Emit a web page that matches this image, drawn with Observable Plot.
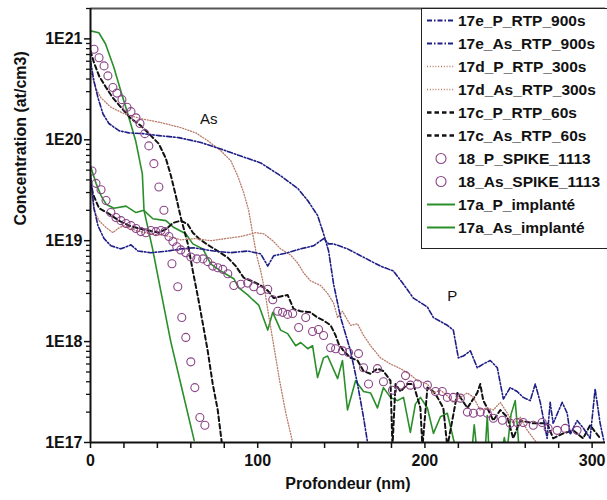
<!DOCTYPE html>
<html><head><meta charset="utf-8">
<script src="https://cdn.jsdelivr.net/npm/d3@7"></script>
<script src="https://cdn.jsdelivr.net/npm/@observablehq/plot@0.6"></script>
<style>
body{margin:0;background:#fff;overflow:hidden;}
#wrap{position:relative;width:607px;height:500px;font-family:"Liberation Sans",Arial,Helvetica,sans-serif;}
#legend{position:absolute;left:421px;top:8px;width:200px;height:241px;border:1.5px solid #222;background:#fff;box-sizing:border-box;}
.row{position:absolute;left:0;height:23px;display:flex;align-items:center;font-weight:bold;font-size:15.5px;color:#111;white-space:nowrap;}
.row svg{margin-left:4px;margin-right:2px;}
svg [aria-label="x-axis tick label"], svg [aria-label="y-axis tick label"]{font-weight:bold;}
</style></head><body><div id="wrap"><div id="chart"></div><div id="legend"></div></div>
<script>
// ---- data: [depth (nm), concentration (at/cm3)] ----
const e900_P = [[0,4.4e19],[2.1,2.1e19],[4.5,1.4e19],[8.1,1.05e19],[12.2,8.9e18],[18.2,8.3e18],[24.2,9.1e18],[28.4,7.9e18],[36.1,7.6e18],[46.3,7.9e18],[54,8.3e18],[61.8,8.5e18],[73.7,7.9e18],[83.9,7.6e18],[94,7.9e18],[101.8,7.4e18],[106,5.6e18],[109.6,7.1e18],[117.9,7.6e18],[125.7,8.3e18],[133.4,8.9e18],[139.4,1.05e19],[142.4,9.3e18],[145.4,9.3e18],[153.7,8.3e18],[161.5,7.1e18],[173.4,5.6e18],[181.2,5.0e18],[187.2,3.7e18],[193.1,2.7e18],[201.5,2.2e18],[205.1,1.73e18],[213.4,1.45e18],[217,1.3e18],[220,6.9e17],[223,7.2e17],[227.2,8.1e17],[231.3,5.5e17],[234.9,6.0e17],[239.1,6.5e17],[243.3,5.5e17],[246.9,2.7e17],[251,3.5e17],[255.2,3.2e17],[258.8,2.8e17],[263,2.6e17],[266,3.8e17],[269,2.5e17],[273.1,1.1e17],[274.9,2.5e17],[276.7,1.55e17],[282.1,2.5e17],[285.1,1.95e17],[286.9,1.2e17],[291,1.65e17],[294.6,1.4e17],[298.8,1.1e17],[301.8,3.4e17],[304.8,1.55e17],[307.8,9e16]];
const e900_As = [[0,6e20],[2.1,3.8e20],[4.5,2.6e20],[7.5,1.8e20],[11,1.45e20],[17,1.23e20],[23,1.17e20],[31.3,1.15e20],[40.9,1.1e20],[52.8,1.05e20],[66,9.4e19],[77.9,8.1e19],[89.9,6.9e19],[101.8,5.9e19],[113.7,4.4e19],[123.9,3.3e19],[129.9,2.5e19],[135.8,1.78e19],[139.4,1.17e19],[142.4,7.9e18],[145.4,3.7e18],[149.6,1.73e18],[155.5,8.1e17],[159.7,3.8e17],[163.3,1.77e17],[165.7,1e17]];
const d300_P = [[0,3.5e19],[2.1,2.0e19],[5.1,1.58e19],[9.3,1.35e19],[13.4,1.2e19],[16.4,1.32e19],[20,1.41e19],[27.2,1.26e19],[36.1,1.17e19],[45.1,1.12e19],[54,1.02e19],[63,1.05e19],[71.9,1.0e19],[80.9,1.05e19],[89.9,1.1e19],[98.8,1.2e19],[103.6,1.17e19],[109,1.0e19],[113.7,8.3e18],[119.7,7.2e18],[123.9,6.0e18],[127.5,4.8e18],[131.6,4.0e18],[137.6,3.6e18],[141.8,3.0e18],[145.4,2.4e18],[147.8,1.73e18],[150.7,2.0e18],[155.5,1.45e18],[159.7,1.5e18],[163.3,1.15e18],[167.5,9.1e17],[173.4,6.9e17],[179.4,6.0e17],[185.4,5.4e17],[191.3,4.7e17],[195.5,4.1e17],[201.5,3.8e17],[205.1,3.1e17],[209.3,3.3e17],[213.4,2.9e17],[217,2.5e17],[221.2,2.8e17],[225.4,3.1e17],[229,2.8e17],[233.1,2.1e17],[237.3,2.2e17],[240.9,2.1e17],[245.1,2.5e17],[249.3,1.95e17],[252.8,1.55e17],[257,1.78e17],[261.2,1.32e17],[264.8,1.1e17],[269,9e16]];
const d300_As = [[0,4.8e20],[3.3,3.2e20],[6.3,2.6e20],[12.2,2.1e20],[21.2,1.78e20],[30.1,1.62e20],[42.1,1.48e20],[54,1.32e20],[63,1.17e20],[70.1,9.8e19],[77.9,7.8e19],[83.9,6.2e19],[88,4.4e19],[91.6,3.0e19],[94.6,2.0e19],[97,1.17e19],[99.4,7.1e18],[101.8,5.0e18],[104.2,3.2e18],[106.6,1.8e18],[109.6,9.1e17],[113.1,4.1e17],[116.7,2.0e17],[120.9,1e17]];
const c60_P = [[0,3.9e19],[1.5,2.9e19],[5.1,2.1e19],[11,1.85e19],[17,1.58e19],[23,1.41e19],[29,1.32e19],[34.9,1.26e19],[40.9,1.2e19],[45.1,1.3e19],[49.3,1.5e19],[54,1.58e19],[58.2,1.45e19],[61.2,1.2e19],[64.8,1.05e19],[70.1,9.1e18],[76.1,7.9e18],[82.1,6.8e18],[86.9,5.6e18],[91.6,4.3e18],[97.6,3.9e18],[101.8,3.6e18],[106,3.2e18],[109.6,2.7e18],[113.7,2.8e18],[117.9,2.9e18],[121.5,2.1e18],[125.7,2.0e18],[131.6,1.95e18],[135.8,1.73e18],[139.4,1.62e18],[143.6,1.45e18],[146.6,1.15e18],[148.4,9.5e17],[151.3,8.1e17],[155.5,6.9e17],[159.7,6.5e17],[163.3,5.1e17],[167.5,4.8e17],[171.6,5.4e17],[175.2,5.1e17],[179.4,4.1e17],[180.6,9e16],[182.4,3.8e17],[185.4,3.2e17],[189.6,3.8e17],[193.1,3.8e17],[197.3,2.2e17],[198.5,9e16],[201.5,3.5e17],[205.1,3.2e17],[207.5,2.8e17],[211,2.2e17],[213.4,9e16],[219.4,3.1e17],[225.4,2.2e17],[231.3,3.1e17],[233.1,3.8e17],[234.9,2.6e17],[237.3,2.2e17],[240.9,1.65e17],[245.1,2.1e17],[249.3,1.78e17],[252.8,1.1e17],[257,1.65e17],[264.8,1.55e17],[273.1,1.55e17],[276.7,1.1e17],[282.7,1.23e17],[288.7,1.32e17],[294.6,1.1e17],[298.8,1.48e17],[304.8,1.1e17]];
const c60_As = [[0,7.6e20],[2.1,5.8e20],[5.1,4.3e20],[9.3,3.3e20],[13.4,2.6e20],[18.2,2.1e20],[24.2,1.62e20],[30.1,1.38e20],[36.1,1.1e20],[40.9,9.1e19],[45.1,6.5e19],[48.1,4.4e19],[51,2.8e19],[54,1.7e19],[58.2,9.3e18],[61.2,5.0e18],[64.2,2.8e18],[67.2,1.5e18],[70.1,8.1e17],[73.1,3.8e17],[76.1,2.1e17],[78.5,1e17]];
const s_P = [[0.9,4.9e19],[3.3,3.7e19],[6.3,3.2e19],[9.3,2.5e19],[12.2,1.9e19],[15.2,1.7e19],[18.2,1.58e19],[21.2,1.48e19],[24.2,1.41e19],[27.2,1.32e19],[30.1,1.23e19],[33.1,1.2e19],[36.1,1.26e19],[39.1,1.23e19],[42.1,1.26e19],[44.5,1.23e19],[46.9,1.1e19],[49.3,9.8e18],[51.6,8.7e18],[54,8.1e18],[57,7.6e18],[60,6.9e18],[63.6,6.6e18],[67.2,6.6e18],[70.1,6.2e18],[73.1,5.6e18],[76.1,5.4e18],[79.1,5.2e18],[82.1,4.7e18],[85.7,3.6e18],[89.9,3.7e18],[94,3.8e18],[97.6,3.5e18],[101.8,3.2e18],[106,3.3e18],[109,2.6e18],[112,2.0e18],[114.9,1.95e18],[117.9,1.86e18],[120.9,1.9e18],[124.5,1.38e18],[128.7,1.73e18],[132.8,1.26e18],[136.4,1.32e18],[139.4,1.15e18],[143.6,8.7e17],[146.6,8.5e17],[150.7,8.1e17],[154.3,7.8e17],[160.3,7.6e17],[163.3,5.5e17],[166.3,3.8e17],[171.6,5.4e17],[175.2,4.0e17],[180.6,3.3e17],[185.4,3.7e17],[188.4,4.6e17],[191.3,3.7e17],[195.5,3.8e17],[201.5,3.7e17],[206.3,3.2e17],[210.4,3.2e17],[213.4,2.8e17],[217,2.8e17],[221.2,2.75e17],[225.4,2.0e17],[229,1.95e17],[233.1,2.0e17],[237.3,1.95e17],[240.9,1.74e17],[246.3,1.66e17],[251,1.55e17],[255.2,1.58e17],[258.8,1.58e17],[264.8,1.48e17],[270.1,1.58e17],[273.7,1.38e17],[279.1,1.32e17],[283.9,1.38e17],[291,1.32e17]];
const s_As = [[2.1,7.9e20],[5.1,6.5e20],[8.1,5.4e20],[10.4,4.3e20],[13.4,3.3e20],[15.8,2.9e20],[18.8,2.5e20],[21.8,2.1e20],[24.2,1.9e20],[27.2,1.65e20],[29.6,1.45e20],[32.5,1.15e20],[34.9,8.7e19],[37.9,5.8e19],[40.9,3.4e19],[43.9,2.0e19],[48.7,5.9e18],[52.2,3.5e18],[54.6,1.73e18],[57,1.1e18],[60,6.3e17],[62.4,3.5e17],[65.4,1.77e17],[68.4,1.48e17]];
const a_P = [[0,5.5e19],[3.3,3.7e19],[6.3,2.8e19],[9.3,2.3e19],[14,2.1e19],[21.2,2.2e19],[27.2,1.9e19],[31.9,2.0e19],[37.3,1.65e19],[45.1,1.58e19],[49.9,1.35e19],[57,1.17e19],[61.2,9.3e18],[67.2,8.3e18],[71.9,5.9e18],[77.9,5.0e18],[85.7,4.2e18],[88.7,3.4e18],[94,2.9e18],[97,2.6e18],[100.6,2.3e18],[106,1.3e18],[109,1.95e18],[113.7,1.3e18],[117.9,1.2e18],[122.7,9.1e17],[125.7,9.8e17],[129.9,8.5e17],[132.8,9.1e17],[135.8,4.4e17],[139.4,6.9e17],[141.8,7.2e17],[147.8,4.3e17],[150.7,6.5e17],[153.7,2.1e17],[158.5,4.1e17],[163.3,3.2e17],[167.5,3.1e17],[171.6,2.2e17],[175.2,3.5e17],[179.4,2.8e17],[183.6,2.6e17],[187.2,2.8e17],[191.3,1.26e17],[194.3,2.4e17],[197.3,2.8e17],[201.5,2.2e17],[205.1,1.23e17],[209.3,1.8e17],[213.4,1.95e17],[218.2,9e16],[222,6e16],[228,8e16],[229.5,1.5e17],[231.5,7e16],[236,8e16],[237.3,1.85e17],[238.5,7e16],[246,8e16],[247.5,1.12e17],[249,8e16],[251.5,1.9e17],[254,2.6e17],[256.5,8e16]];
const a_As = [[0,1.2e21],[5,1.15e21],[9,8.9e20],[14,5.2e20],[18,3.1e20],[23,1.65e20],[27,9.8e19],[31,4.6e19],[32,2.0e19],[37,8.5e18],[42,3.2e18],[48,1.0e18],[54,3.8e17],[62,1.05e17]];

const xTicks = [0, 100, 200, 300];
const xMinor = [20, 40, 60, 80, 120, 140, 160, 180, 220, 240, 260, 280];
const yTicks = [1e17, 1e18, 1e19, 1e20, 1e21];
const yTickLabels = ["1E17", "1E18", "1E19", "1E20", "1E21"];
const yMinor = [2e17,3e17,4e17,5e17,6e17,7e17,8e17,9e17,2e18,3e18,4e18,5e18,6e18,7e18,8e18,9e18,2e19,3e19,4e19,5e19,6e19,7e19,8e19,9e19,2e20,3e20,4e20,5e20,6e20,7e20,8e20,9e20,2e21];
const annotations = [{text: "As", x: 70.7, y: 1.6e20}, {text: "P", x: 216.4, y: 2.8e18}];

// ---- styles ----
const BLUE = "#1e1e86", BROWN = "#b97a68", BLACK = "#111", PURPLE = "#8a4486", GREEN = "#2a8f2a";
const series = [
  {name: "17e_P_RTP_900s", data: e900_P, kind: "line", stroke: BLUE, dash: "5,2,1.5,2", w: 1.6},
  {name: "17e_As_RTP_900s", data: e900_As, kind: "line", stroke: BLUE, dash: "5,2,1.5,2", w: 1.6},
  {name: "17d_P_RTP_300s", data: d300_P, kind: "line", stroke: BROWN, dash: "1,1.8", w: 1.3},
  {name: "17d_As_RTP_300s", data: d300_As, kind: "line", stroke: BROWN, dash: "1,1.8", w: 1.3},
  {name: "17c_P_RTP_60s", data: c60_P, kind: "line", stroke: BLACK, dash: "4.5,3", w: 2},
  {name: "17c_As_RTP_60s", data: c60_As, kind: "line", stroke: BLACK, dash: "4.5,3", w: 2},
  {name: "18_P_SPIKE_1113", data: s_P, kind: "dot", stroke: PURPLE},
  {name: "18_As_SPIKE_1113", data: s_As, kind: "dot", stroke: PURPLE},
  {name: "17a_P_implanté", data: a_P, kind: "line", stroke: GREEN, dash: null, w: 1.6},
  {name: "17a_As_implanté", data: a_As, kind: "line", stroke: GREEN, dash: null, w: 1.6}
];

const FONT = '"Liberation Sans", Arial, Helvetica, sans-serif';
const drawOrder = [8, 9, 4, 5, 2, 3, 0, 1, 6, 7];
const dataMarks = drawOrder.map(i => {
  const s = series[i];
  if (s.kind === "dot") {
    return Plot.dot(s.data, {x: d => d[0], y: d => d[1], r: 4, stroke: s.stroke, fill: "none", strokeWidth: 1.1, clip: true});
  }
  return Plot.line(s.data, {x: d => d[0], y: d => d[1], stroke: s.stroke, strokeWidth: s.w, strokeDasharray: s.dash, clip: true});
});

const chart = Plot.plot({
  width: 607, height: 500,
  marginLeft: 90, marginRight: 2, marginTop: 8, marginBottom: 58,
  x: {domain: [0, 308]},
  y: {type: "log", domain: [1e17, 2e21]},
  style: {fontFamily: FONT, background: "white", color: "#111"},
  marks: [
    Plot.axisX({ticks: xMinor, tickFormat: () => "", tickSize: 6, strokeWidth: 1.5, label: null}),
    Plot.axisX({ticks: xTicks, tickSize: 6, tickPadding: 6, fontSize: 16, strokeWidth: 1.5, label: null}),
    Plot.axisY({ticks: yMinor, tickFormat: () => "", tickSize: 4, strokeWidth: 1.3, label: null}),
    Plot.axisY({ticks: yTicks, tickFormat: d => yTickLabels[yTicks.indexOf(d)], tickSize: 6, tickPadding: 2, fontSize: 16, strokeWidth: 1.5, label: null}),
    ...dataMarks,
    Plot.ruleY([2e21], {stroke: "#555", strokeWidth: 2}),
    Plot.ruleX([0], {stroke: "#111", strokeWidth: 2}),
    Plot.ruleY([1e17], {stroke: "#111", strokeWidth: 2}),
    Plot.text(annotations, {x: "x", y: "y", text: "text", fontSize: 15, fill: "#111"}),
    Plot.text(["Profondeur (nm)"], {frameAnchor: "bottom", dy: 46, fontSize: 16, fontWeight: "bold", fill: "#111"}),
    Plot.text(["Concentration (at/cm3)"], {frameAnchor: "left", dx: -70, rotate: -90, fontSize: 16, fontWeight: "bold", fill: "#111"})
  ]
});
document.getElementById("chart").appendChild(chart);

// ---- legend ----
const legend = document.getElementById("legend");
series.forEach((s, i) => {
  const row = document.createElement("div");
  row.className = "row";
  row.style.top = (23 * i) + "px";
  const ns = "http://www.w3.org/2000/svg";
  const sw = document.createElementNS(ns, "svg");
  sw.setAttribute("width", 30); sw.setAttribute("height", 23);
  if (s.kind === "dot") {
    const c = document.createElementNS(ns, "circle");
    c.setAttribute("cx", 15); c.setAttribute("cy", 11.5); c.setAttribute("r", 5);
    c.setAttribute("fill", "none"); c.setAttribute("stroke", s.stroke); c.setAttribute("stroke-width", 1.1);
    sw.appendChild(c);
  } else {
    const l = document.createElementNS(ns, "line");
    l.setAttribute("x1", 1); l.setAttribute("x2", 29); l.setAttribute("y1", 11.5); l.setAttribute("y2", 11.5);
    l.setAttribute("stroke", s.stroke); l.setAttribute("stroke-width", s.w + 0.4);
    if (s.dash) l.setAttribute("stroke-dasharray", s.dash);
    sw.appendChild(l);
  }
  row.appendChild(sw);
  const t = document.createElement("span");
  t.textContent = s.name;
  row.appendChild(t);
  legend.appendChild(row);
});
</script>
</body></html>
